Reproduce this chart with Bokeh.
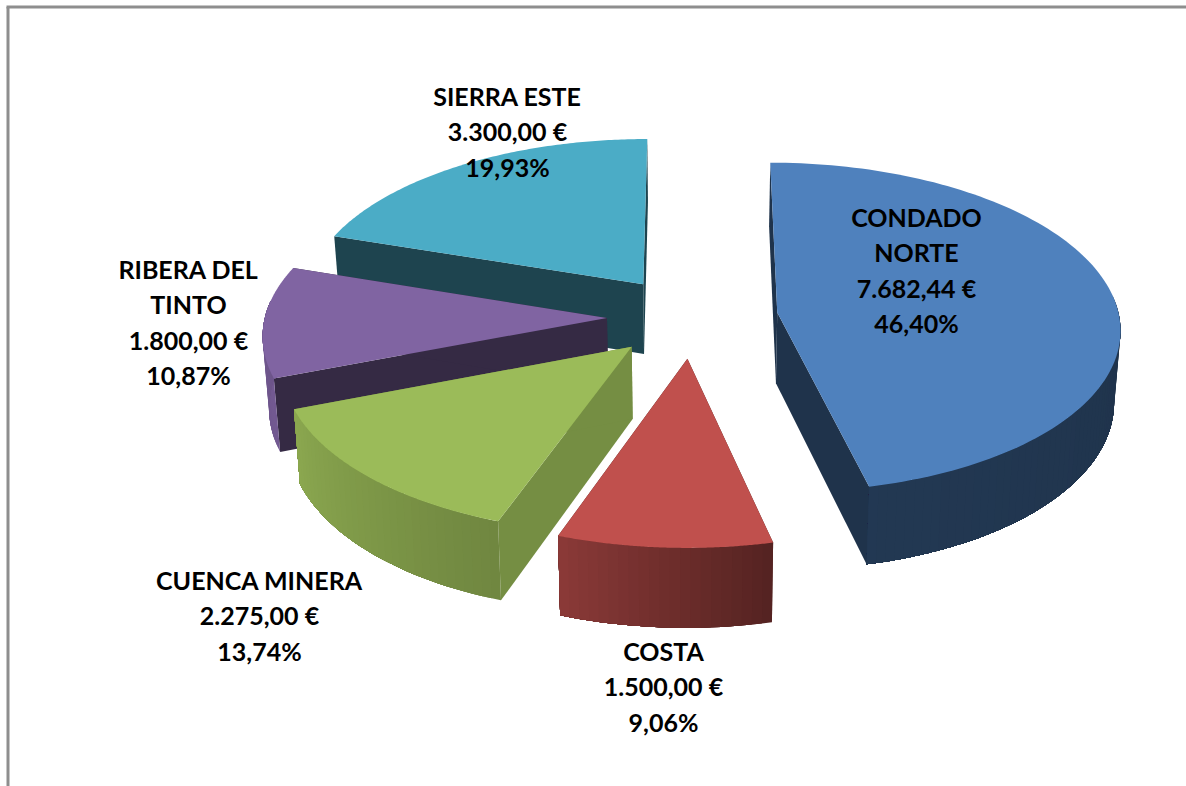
import numpy as np
from bokeh.plotting import figure
from bokeh.models import Range1d
from bokeh.core.properties import value
from bokeh.embed import file_html
from bokeh.resources import INLINE

# data
regions = ["CONDADO NORTE", "COSTA", "CUENCA MINERA", "RIBERA DEL TINTO", "SIERRA ESTE"]
amounts = [7682.44, 1500.00, 2275.00, 1800.00, 3300.00]
label_lines = [["CONDADO", "NORTE"], ["COSTA"], ["CUENCA MINERA"], ["RIBERA DEL", "TINTO"], ["SIERRA ESTE"]]
colors = ["#4f81bd", "#c0504d", "#9bbb59", "#8064a2", "#4bacc6"]

# style: projection of the tilted exploded pie onto the page
OX, OY, AX, BY, K, HT, LEAN = 692.0, 316.5, 342.0, 164.0, 0.09, 71.0, 0.015
EXPLODE = 0.25
SHADE_ANG = [0, 90, 167, 199, 249, 290, 360]
SHADE_VAL = [0.40, 0.40, 0.44, 0.72, 0.90, 0.82, 0.40]
FACE_SHADE = [0.40, 0.40, 0.76, 0.42, 0.40]
WALL_FROM, WALL_TO = 84.0, 276.0
LABEL_XY = [(916, 216), (663, 650), (259, 579), (188, 268), (507, 95)]
LINE_H = 35.6
DRAW_ORDER = [4, 0, 3, 2, 1]


def project(X, Y, z=0.0):
    X, Y = np.asarray(X, float), np.asarray(Y, float)
    w = 1 - K * Y
    return OX + AX * X / w * (1 - LEAN * z), OY + BY * Y / w + z * HT * (1 + 0.1 * Y)


def scale(col, f):
    r, g, b = [int(col[i:i + 2], 16) for i in (1, 3, 5)]
    return "#%02x%02x%02x" % (int(r * f), int(g * f), int(b * f))


def money(v):
    s = f"{v:,.2f}".replace(",", "X").replace(".", ",").replace("X", ".")
    return s + " €"


total = sum(amounts)
shares = [a / total for a in amounts]
edges = np.cumsum([0.0] + shares) * 360.0

xs, ys, fills = [], [], []


def add(px, py, c):
    xs.append(list(map(float, px)))
    ys.append(list(map(float, py)))
    fills.append(c)


for i in DRAW_ORDER:
    a0, a1 = edges[i], edges[i + 1]
    mid = np.radians((a0 + a1) / 2)
    cx, cy = EXPLODE * np.sin(mid), -EXPLODE * np.cos(mid)
    face = scale(colors[i], FACE_SHADE[i])

    # radial faces
    for a in (a0, a1):
        t = np.radians(a)
        Xr = np.array([cx, cx + np.sin(t), cx + np.sin(t), cx])
        Yr = np.array([cy, cy - np.cos(t), cy - np.cos(t), cy])
        z = np.array([0, 0, 1, 1.0])
        px, py = project(Xr, Yr, z)
        add(px, py, face)

    # outer wall: only its viewer-facing part, painted so each band overlaps the rest
    lo, hi = max(a0, WALL_FROM), min(a1, WALL_TO)
    if hi > lo:
        th = np.linspace(lo, hi, max(6, int((hi - lo) / 1.5)) + 1)
        for j in range(len(th) - 1):
            t = np.radians(th[j:])
            Xr = cx + np.r_[np.sin(t), np.sin(t)[::-1]]
            Yr = cy - np.r_[np.cos(t), np.cos(t)[::-1]]
            z = np.r_[np.zeros(len(t)), np.ones(len(t))]
            px, py = project(Xr, Yr, z)
            shade = float(np.interp((th[j] + th[j + 1]) / 2, SHADE_ANG, SHADE_VAL))
            add(px, py, scale(colors[i], shade))

    # top
    t = np.radians(np.linspace(a0, a1, 120))
    Xr = np.r_[cx, cx + np.sin(t)]
    Yr = np.r_[cy, cy - np.cos(t)]
    px, py = project(Xr, Yr)
    add(px, py, colors[i])

p = figure(width=1186, height=786, x_range=Range1d(0, 1186), y_range=Range1d(786, 0),
           toolbar_location=None, output_backend="svg", min_border=0,
           background_fill_color="white", border_fill_color="white")
p.axis.visible = False
p.grid.visible = False
p.outline_line_color = None

p.patches(xs, ys, fill_color=fills, line_color=None)

# frame of the picture
p.segment([7.5, 6], [6.5, 6.5], [7.5, 1186], [786, 6.5], line_color="#8e8e8e", line_width=3)

tx, ty, tt = [], [], []
for i in range(len(regions)):
    lines = label_lines[i] + [money(amounts[i]), f"{shares[i] * 100:.2f}%".replace(".", ",")]
    x0, y0 = LABEL_XY[i]
    for j, s in enumerate(lines):
        tx.append(x0)
        ty.append(y0 + j * LINE_H)
        tt.append(s)
p.text(tx, ty, text=tt, text_align="center", text_baseline="middle", text_color="#000000",
       text_font=value("Lato"), text_font_size="25px", text_font_style="bold")

open("out.html", "w").write(file_html(p, INLINE))
